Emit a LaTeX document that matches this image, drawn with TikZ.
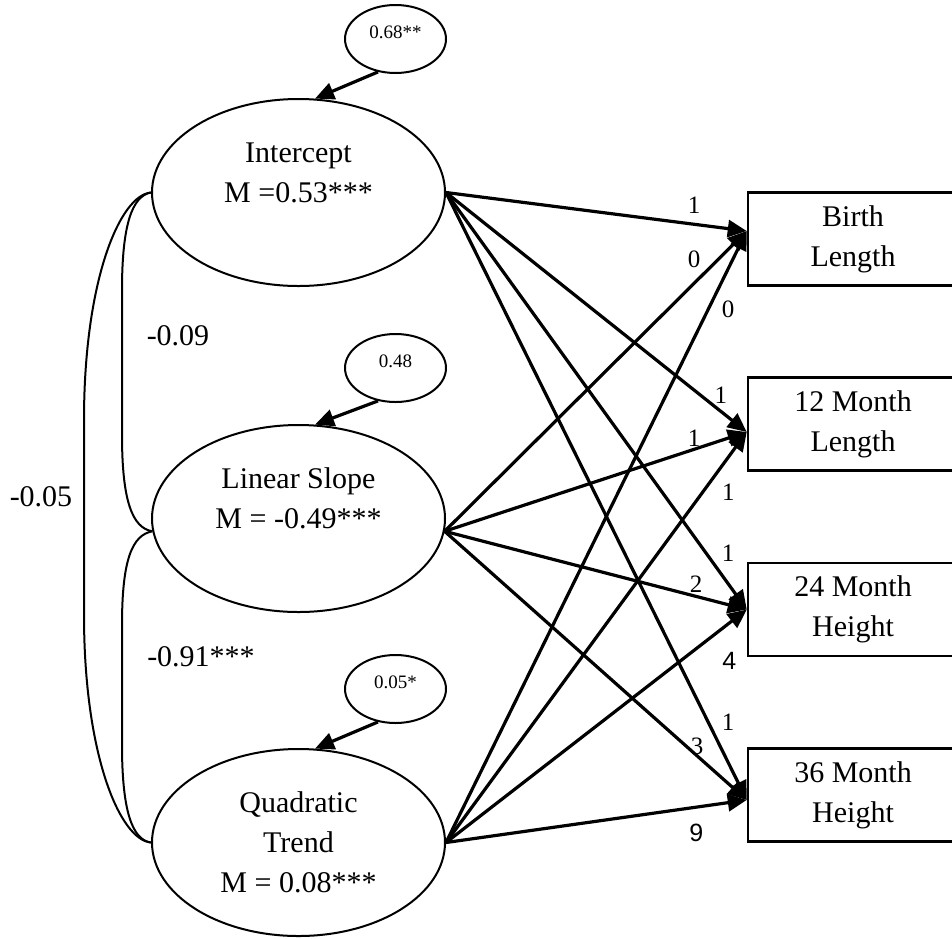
\documentclass[tikz,border=0pt]{standalone}
\usepackage{fontspec}
\setmainfont{Liberation Serif}
\newfontfamily\labelsans{Liberation Sans}
\usetikzlibrary{shapes.geometric,arrows.meta}

\tikzstyle{latent} = [ellipse,draw,line width=2pt,minimum width=293pt,minimum height=187pt,inner sep=0pt,align=center,font=\fontsize{30}{40}\selectfont]
\tikzstyle{residual} = [ellipse,draw,line width=2pt,minimum width=101pt,minimum height=68pt,inner sep=0pt,text depth=13pt,font=\fontsize{19}{22}\selectfont]
\tikzstyle{observed} = [rectangle,draw,line width=2.5pt,minimum width=210pt,minimum height=93pt,align=center,font=\fontsize{30}{40}\selectfont]
\tikzstyle{loading} = [draw,line width=3.2pt,-{Triangle[length=19pt,width=17pt]}]
\tikzstyle{weight} = [font=\fontsize{25}{25}\selectfont,inner sep=0pt]
\tikzstyle{cov} = [draw,line width=2pt]
\tikzstyle{corr} = [font=\fontsize{30}{30}\selectfont]

\begin{document}
\begin{tikzpicture}[x=1pt,y=-1pt]
    \useasboundingbox (0,0) rectangle (952,938);
    %% latent growth factors
    \node[latent] (int) at (298.5,192.5) {Intercept\\M =0.53***\\\mbox{}};
    \node[latent] (lin) at (298.5,518.5) {Linear Slope\\M = -0.49***\\\mbox{}};
    \node[latent] (quad) at (298.5,842.5) {Quadratic\\Trend\\M = 0.08***};
    %% residual variances
    \foreach \nodename/\y/\value/\target in {
      r1/39/0.68**/int, r2/368/0.48/lin, r3/689/0.05*/quad}
    {
      \node[residual] (\nodename) at (395.5,\y) {\value};
      \draw[loading] (\nodename.-118) -- (\target.80);
    }
    %% observed measures
    \node[observed] (birth) at (853,239) {Birth\\Length};
    \node[observed] (mtwelve) at (853,424) {12 Month\\Length};
    \node[observed] (mtwentyfour) at (853,609.5) {24 Month\\Height};
    \node[observed] (mthirtysix) at (853,795) {36 Month\\Height};
    \coordinate (birthin) at ([yshift=8pt]birth.west);
    \coordinate (mtwelvein) at ([yshift=-8pt]mtwelve.west);
    \coordinate (mtwentyfourin) at (mtwentyfour.west);
    \coordinate (mthirtysixin) at ([yshift=-5pt]mthirtysix.west);
    %edges or loadings
    \path
    \foreach \startnode/\endnode/\direction/\gap/\where/\weight in {
      int.east/birthin/above/9pt/0.825/1,
      lin.-5/birthin/above/14pt/0.826/0,
      quad.east/birthin/right/12pt/0.872/0,
      int.east/mtwelvein/above/6pt/0.914/1,
      lin.-5/mtwelvein/above/1pt/0.826/1,
      quad.east/mtwelvein/right/18pt/0.853/1,
      int.east/mtwentyfourin/right/14pt/0.865/1,
      lin.-5/mtwentyfourin/above/2.5pt/0.832/2,
      quad.east/mtwentyfourin/right/40pt/0.781/{\labelsans 4},
      int.east/mthirtysixin/right/12pt/0.872/1,
      lin.-5/mthirtysixin/above/0pt/0.836/3,
      quad.east/mthirtysixin/below/15pt/0.832/{\labelsans 9}}
    {
      (\startnode) edge[loading] node[weight,pos=\where,\direction=\gap] {\weight} (\endnode)
    };
    %% covariances
    \draw[cov] (int.180) .. controls (132,196) and (122,225) .. (122,290) -- (122,435)
      .. controls (122,500) and (132,528) .. (lin.185);
    \draw[cov] (lin.185) .. controls (132,535) and (122,560) .. (122,625) -- (122,745)
      .. controls (122,810) and (132,840) .. (quad.180);
    \draw[cov] (int.180) .. controls (120,195) and (84,280) .. (84,420) -- (84,615)
      .. controls (84,755) and (120,840) .. (quad.180);
    \node[corr] (cintlin) at (178,336) {-0.09};
    \node[corr] (cintquad) at (41,497) {-0.05};
    \node[corr] (clinquad) at (201,657) {-0.91***};
\end{tikzpicture}
\end{document}
